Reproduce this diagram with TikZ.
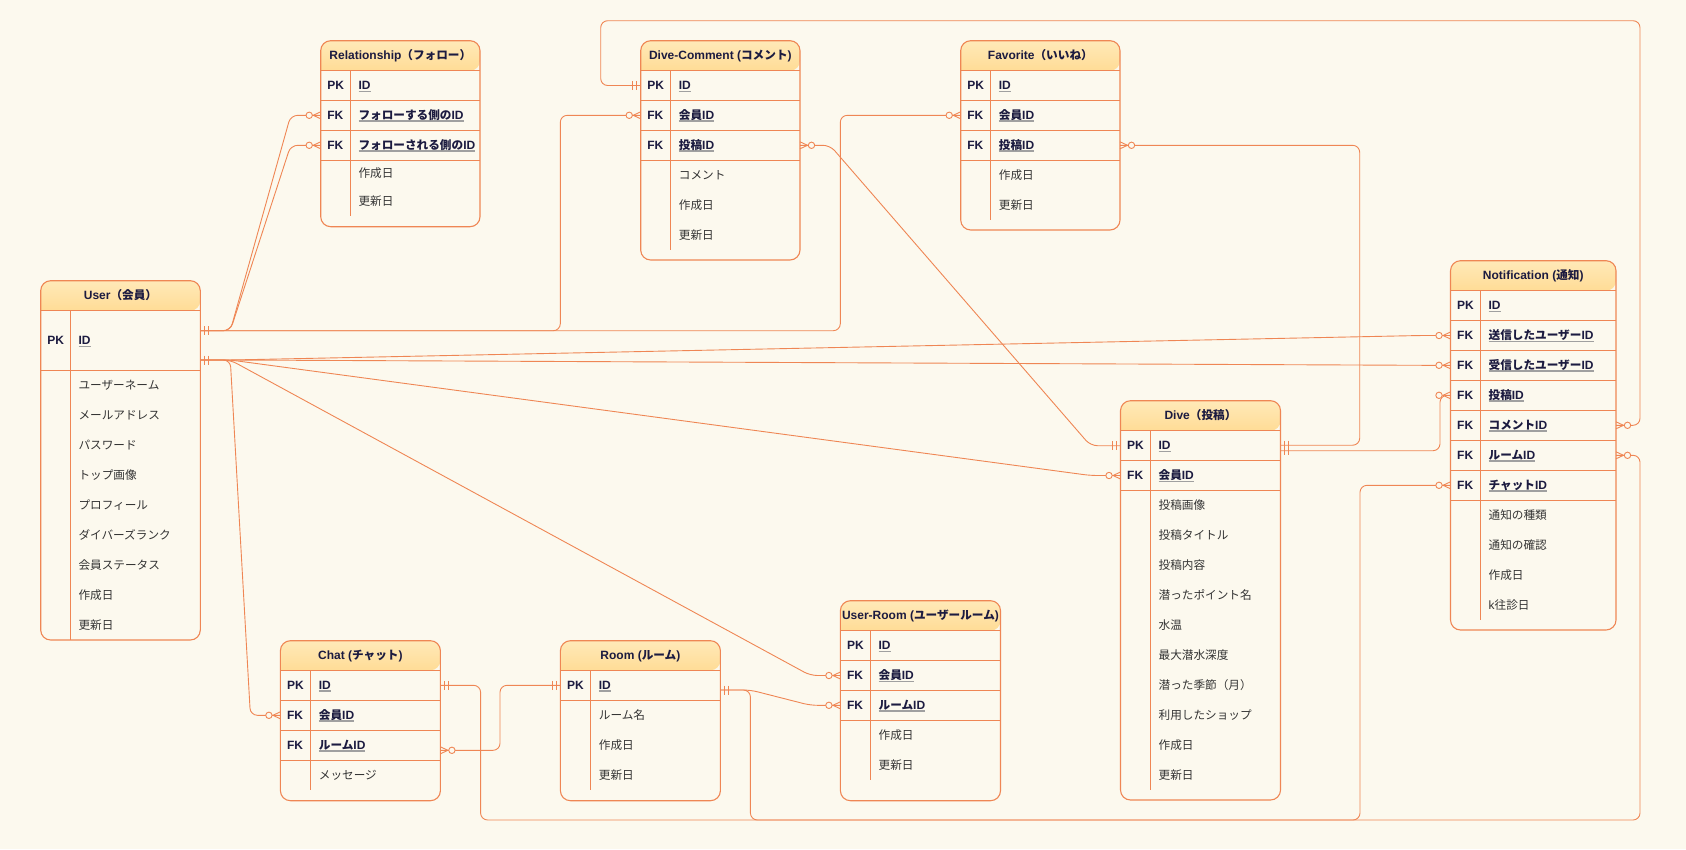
\documentclass[tikz,border=0pt]{standalone}
\usepackage{fontspec}
\setmainfont{Liberation Sans}
\newfontfamily\jpfont{Noto Sans CJK JP}[Scale=0.97]
\usetikzlibrary{calc}
% automatic switch to the Japanese font
\XeTeXinterchartokenstate=1
\chardef\JPclass=77
\newcount\jpc
\newcommand\setjpclass[2]{\jpc=#1\relax\loop\XeTeXcharclass\jpc=\JPclass\relax\ifnum\jpc<#2\relax\advance\jpc by 1\repeat}
\setjpclass{"3000}{"30FF}
\setjpclass{"4E00}{"9FFF}
\setjpclass{"FF00}{"FFEF}
\XeTeXinterchartoks 0 \JPclass = {\begingroup\jpfont}
\XeTeXinterchartoks 4095 \JPclass = {\begingroup\jpfont}
\XeTeXinterchartoks \JPclass 0 = {\endgroup}
\XeTeXinterchartoks \JPclass 4095 = {\endgroup}

\definecolor{bg}{HTML}{FCF9EE}
\definecolor{lc}{HTML}{EF8654}
\definecolor{hdtop}{HTML}{FFE9B8}
\definecolor{hdbot}{HTML}{FFDC96}
\definecolor{navy}{HTML}{1C1B40}
\definecolor{attc}{HTML}{333333}
\definecolor{ulc}{HTML}{A0A0A0}

\newcommand\ul[1]{\setbox0=\hbox{#1}\rlap{\color{ulc}\rule[-2.6pt]{\wd0}{1.6pt}}\box0}

% table frame: name, x1, x2, top, header bottom, divider x, divider end, bottom, title
\newcommand\tabl[9]{%
  \fill[bg, rounded corners=10pt] (#2,#4) rectangle (#3,#8);
  \shade[top color=hdtop, bottom color=hdbot] (#2,#5) [rounded corners=10pt] -- (#2,#4) -- (#3,#4) -- (#3,#5) [sharp corners] -- cycle;
  \draw[tb] (#2,#5) -- (#3,#5);
  \draw[tb] (#6,#5) -- (#6,#7);
  \draw[tb, rounded corners=10pt] (#2,#4) rectangle (#3,#8);
  \node[ttl] (#1) at ({(#2+#3)/2},{(#4+#5)/2}) {#9};
}
% key row: name, x1, x2, divider x, y top, y bottom, key, field
\newcommand\keyrow[8]{%
  \draw[tb] (#2,#6) -- (#3,#6);
  \node[rowbox, minimum width={(#3)-(#2)}, minimum height={(#6)-(#5)}] (#1) at ({(#2+#3)/2},{(#5+#6)/2}) {};
  \node[keyt] (#1-k) at ({#2+6.5},{(#5+#6)/2}) {#7};
  \node[keyt] (#1-f) at ({#4+8},{(#5+#6)/2}) {\ul{#8}};
}
% attribute: name, divider x, y, text
\newcommand\attr[4]{\node[attt] (#1) at ({#2+8},#3) {#4};}

\tikzset{
  zmany/.pic={\draw[mk] (0,-3.5) -- (-7.5,0) -- (0,3.5); \filldraw[mk,fill=bg] (-11.5,0) circle[radius=3.2pt];},
  mone/.pic={\draw[mk] (-4,-4.5) -- (-4,4.5) (-8,-4.5) -- (-8,4.5);},
}

\begin{document}
\begin{tikzpicture}[x=1pt,y=-1pt,
  tb/.style={draw=lc, line width=1.1pt},
  rel/.style={draw=lc, line width=0.9pt, rounded corners=7pt},
  mk/.style={draw=lc, line width=0.9pt},
  ttl/.style={font=\fontsize{12}{14}\selectfont\bfseries, text=navy, inner sep=0pt, text height=8pt, text depth=0pt, anchor=center},
  keyt/.style={font=\fontsize{12}{14}\selectfont\bfseries, text=navy, anchor=west, inner sep=0pt, text height=8pt, text depth=0pt},
  attt/.style={font=\fontsize{12}{14}\selectfont, text=attc, anchor=west, inner sep=0pt, text height=8pt, text depth=0pt},
  rowbox/.style={rectangle, inner sep=0pt, outer sep=0pt},
]
\fill[bg] (0,0) rectangle (1686,849);
\useasboundingbox (0,0) rectangle (1686,849);

% ---------------- Relationship
\tabl{rel}{320.7}{480}{40.7}{70.7}{350.3}{216}{226.7}{Relationship（フォロー）}
\keyrow{rel-pk}{320.7}{480}{350.3}{70.7}{100.3}{PK}{ID}
\keyrow{rel-fk1}{320.7}{480}{350.3}{100.3}{130.3}{FK}{フォローする側のID}
\keyrow{rel-fk2}{320.7}{480}{350.3}{130.3}{160.3}{FK}{フォローされる側のID}
\attr{rel-a1}{350.3}{173.3}{作成日}
\attr{rel-a2}{350.3}{201.7}{更新日}

% ---------------- Dive-Comment
\tabl{dc}{640.7}{800}{40.7}{70.7}{670.7}{250}{260}{Dive-Comment (コメント)}
\keyrow{dc-pk}{640.7}{800}{670.7}{70.7}{100.3}{PK}{ID}
\keyrow{dc-fk1}{640.7}{800}{670.7}{100.3}{130.3}{FK}{会員ID}
\keyrow{dc-fk2}{640.7}{800}{670.7}{130.3}{160.3}{FK}{投稿ID}
\attr{dc-a1}{670.7}{175}{コメント}
\attr{dc-a2}{670.7}{205}{作成日}
\attr{dc-a3}{670.7}{235}{更新日}

% ---------------- Favorite
\tabl{fav}{960.7}{1120}{40.7}{70.7}{990.7}{220}{230}{Favorite（いいね）}
\keyrow{fav-pk}{960.7}{1120}{990.7}{70.7}{100.3}{PK}{ID}
\keyrow{fav-fk1}{960.7}{1120}{990.7}{100.3}{130.3}{FK}{会員ID}
\keyrow{fav-fk2}{960.7}{1120}{990.7}{130.3}{160.3}{FK}{投稿ID}
\attr{fav-a1}{990.7}{175}{作成日}
\attr{fav-a2}{990.7}{205}{更新日}

% ---------------- User
\tabl{user}{40.7}{200.3}{280.7}{310.7}{70.3}{640}{640}{User（会員）}
\keyrow{userpk}{40.7}{200.3}{70.3}{310.7}{370.3}{PK}{ID}
\attr{user-a1}{70.3}{385.3}{ユーザーネーム}
\attr{user-a2}{70.3}{415.3}{メールアドレス}
\attr{user-a3}{70.3}{445.3}{パスワード}
\attr{user-a4}{70.3}{475.3}{トップ画像}
\attr{user-a5}{70.3}{505.3}{プロフィール}
\attr{user-a6}{70.3}{535.3}{ダイバーズランク}
\attr{user-a7}{70.3}{565.3}{会員ステータス}
\attr{user-a8}{70.3}{595.3}{作成日}
\attr{user-a9}{70.3}{625.3}{更新日}

% ---------------- Notification
\tabl{nt}{1450.5}{1616}{260.7}{290.7}{1480.4}{620}{630}{Notification (通知)}
\keyrow{nt-pk}{1450.5}{1616}{1480.4}{290.7}{320.7}{PK}{ID}
\keyrow{nt-fk1}{1450.5}{1616}{1480.4}{320.7}{350.3}{FK}{送信したユーザーID}
\keyrow{nt-fk2}{1450.5}{1616}{1480.4}{350.3}{380.3}{FK}{受信したユーザーID}
\keyrow{nt-fk3}{1450.5}{1616}{1480.4}{380.3}{410.3}{FK}{投稿ID}
\keyrow{nt-fk4}{1450.5}{1616}{1480.4}{410.3}{440.3}{FK}{コメントID}
\keyrow{nt-fk5}{1450.5}{1616}{1480.4}{440.3}{470.3}{FK}{ルームID}
\keyrow{nt-fk6}{1450.5}{1616}{1480.4}{470.3}{500.3}{FK}{チャットID}
\attr{nt-a1}{1480.4}{515}{通知の種類}
\attr{nt-a2}{1480.4}{545}{通知の確認}
\attr{nt-a3}{1480.4}{575}{作成日}
\attr{nt-a4}{1480.4}{605}{k往診日}

% ---------------- Dive
\tabl{dive}{1120.5}{1280.5}{400.7}{430.7}{1150.4}{790}{800}{Dive（投稿）}
\keyrow{dive-pk}{1120.5}{1280.5}{1150.4}{430.7}{460.7}{PK}{ID}
\keyrow{dive-fk}{1120.5}{1280.5}{1150.4}{460.7}{490.3}{FK}{会員ID}
\attr{dive-a1}{1150.4}{505.5}{投稿画像}
\attr{dive-a2}{1150.4}{535.5}{投稿タイトル}
\attr{dive-a3}{1150.4}{565.5}{投稿内容}
\attr{dive-a4}{1150.4}{595.5}{潜ったポイント名}
\attr{dive-a5}{1150.4}{625.5}{水温}
\attr{dive-a6}{1150.4}{655.5}{最大潜水深度}
\attr{dive-a7}{1150.4}{685.5}{潜った季節（月）}
\attr{dive-a8}{1150.4}{715.5}{利用したショップ}
\attr{dive-a9}{1150.4}{745.5}{作成日}
\attr{dive-a10}{1150.4}{775.5}{更新日}

% ---------------- Chat
\tabl{chat}{280.4}{440.4}{640.7}{670.3}{310.7}{790}{800.7}{Chat (チャット)}
\keyrow{chat-pk}{280.4}{440.4}{310.7}{670.3}{700.3}{PK}{ID}
\keyrow{chat-fk1}{280.4}{440.4}{310.7}{700.3}{730.3}{FK}{会員ID}
\keyrow{chat-fk2}{280.4}{440.4}{310.7}{730.3}{760.3}{FK}{ルームID}
\attr{chat-a1}{310.7}{775}{メッセージ}

% ---------------- Room
\tabl{room}{560.4}{720.4}{640.7}{670.3}{590.7}{790}{800.7}{Room (ルーム)}
\keyrow{room-pk}{560.4}{720.4}{590.7}{670.3}{700.3}{PK}{ID}
\attr{room-a1}{590.7}{715.3}{ルーム名}
\attr{room-a2}{590.7}{745.3}{作成日}
\attr{room-a3}{590.7}{775.3}{更新日}

% ---------------- User-Room
\tabl{ur}{840.4}{1000.5}{600.7}{630.7}{870.4}{780}{800.7}{User-Room (ユーザールーム)}
\keyrow{ur-pk}{840.4}{1000.5}{870.4}{630.7}{660.7}{PK}{ID}
\keyrow{ur-fk1}{840.4}{1000.5}{870.4}{660.7}{690.3}{FK}{会員ID}
\keyrow{ur-fk2}{840.4}{1000.5}{870.4}{690.3}{720.3}{FK}{ルームID}
\attr{ur-a1}{870.4}{735.3}{作成日}
\attr{ur-a2}{870.4}{765.3}{更新日}

% ---------------- connector anchors
\coordinate (uA) at ($(userpk.east)+(0,-9.8)$);
\coordinate (uB) at ($(userpk.east)+(0,19.5)$);
\coordinate (diveE1) at ($(dive-pk.east)+(0,-0.5)$);
\coordinate (diveE2) at ($(dive-pk.east)+(0,5)$);
\coordinate (roomE) at ($(room-pk.east)+(0,4.7)$);
\coordinate (chatE) at ($(chat-fk2.east)+(0,5)$);
\coordinate (railL) at (600.7,20.7);
\coordinate (railR) at (1640,20.7);
\coordinate (botA) at (750.4,820);
\coordinate (botB) at (1640,820);
\coordinate (botC) at (480.6,820);
\coordinate (botD) at (1360,820);

% ---------------- connectors
\draw[rel] (uA) -- ++(30,0) -- ($(rel-fk1.west)+(-30,0)$) -- (rel-fk1.west);
\draw[rel] (uA) -- ++(30,0) -- ($(rel-fk2.west)+(-30,0)$) -- (rel-fk2.west);
\draw[rel] (uA) -| ($(dc-fk1.west)+(-80.4,0)$) -- (dc-fk1.west);
\draw[rel] (uA) -| ($(fav-fk1.west)+(-120.4,0)$) -- (fav-fk1.west);
\draw[rel] (uB) -- ++(30,0) -- ($(nt-fk1.west)+(-30,0)$) -- (nt-fk1.west);
\draw[rel] (uB) -- ++(30,0) -- ($(nt-fk2.west)+(-30,0)$) -- (nt-fk2.west);
\draw[rel] (uB) -- ++(30,0) -- ($(dive-fk.west)+(-30,0)$) -- (dive-fk.west);
\draw[rel] (uB) -- ++(30,0) -- ($(ur-fk1.west)+(-30,0)$) -- (ur-fk1.west);
\draw[rel] (uB) -- ++(30,0) -- ($(chat-fk1.west)+(-30,0)$) -- (chat-fk1.west);
\draw[rel] (dc-fk2.east) -- ++(30,0) -- ($(dive-pk.west)+(-30,0)$) -- (dive-pk.west);
\draw[rel] (fav-fk2.east) -| ($(diveE1)+(79.2,0)$) -- (diveE1);
\draw[rel] (diveE2) -| ($(nt-fk3.west)+(-10.5,0)$) -- (nt-fk3.west);
\draw[rel] (dc-pk.west) -| (railL) -- (railR) |- (nt-fk4.east);
\draw[rel] (roomE) -| (botA) -- (botB) |- (nt-fk5.east);
\draw[rel] (roomE) -- ++(30,0) -- ($(ur-fk2.west)+(-30,0)$) -- (ur-fk2.west);
\draw[rel] (chat-pk.east) -| (botC) -- (botD) |- (nt-fk6.west);
\draw[rel] (chatE) -| ($(room-pk.west)+(-60.4,0)$) -- (room-pk.west);

% ---------------- end marks
\pic at (rel-fk1.west) {zmany};
\pic at (rel-fk2.west) {zmany};
\pic at (dc-fk1.west) {zmany};
\pic at (fav-fk1.west) {zmany};
\pic at (nt-fk1.west) {zmany};
\pic at (nt-fk2.west) {zmany};
\pic at (nt-fk3.west) {zmany};
\pic at (nt-fk6.west) {zmany};
\pic at (dive-fk.west) {zmany};
\pic at (ur-fk1.west) {zmany};
\pic at (ur-fk2.west) {zmany};
\pic at (chat-fk1.west) {zmany};
\pic[xscale=-1] at (dc-fk2.east) {zmany};
\pic[xscale=-1] at (fav-fk2.east) {zmany};
\pic[xscale=-1] at (nt-fk4.east) {zmany};
\pic[xscale=-1] at (nt-fk5.east) {zmany};
\pic[xscale=-1] at (chatE) {zmany};
\pic at (dive-pk.west) {mone};
\pic at (dc-pk.west) {mone};
\pic at (room-pk.west) {mone};
\pic[xscale=-1] at (uA) {mone};
\pic[xscale=-1] at (uB) {mone};
\pic[xscale=-1] at (diveE1) {mone};
\pic[xscale=-1] at (diveE2) {mone};
\pic[xscale=-1] at (roomE) {mone};
\pic[xscale=-1] at (chat-pk.east) {mone};
\end{tikzpicture}
\end{document}
